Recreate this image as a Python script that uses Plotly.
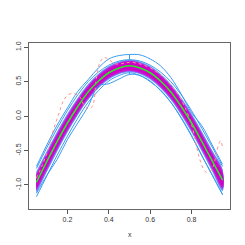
import plotly.graph_objects as go

# grid of the curves
x = [0.05, 0.10, 0.15, 0.20, 0.25, 0.30, 0.35, 0.40, 0.45, 0.50,
     0.55, 0.60, 0.65, 0.70, 0.75, 0.80, 0.85, 0.90, 0.95]

# central (mean) curve, green
center = [-0.96, -0.66, -0.37, -0.10, 0.14, 0.35, 0.51, 0.63, 0.70, 0.73,
          0.70, 0.63, 0.51, 0.35, 0.14, -0.10, -0.37, -0.65, -0.93]

# half-width of the magenta core and of the blue shaded band
hw_core = [0.105, 0.102, 0.098, 0.093, 0.087, 0.081, 0.075, 0.070, 0.067, 0.066,
           0.067, 0.070, 0.075, 0.081, 0.087, 0.093, 0.098, 0.102, 0.105]
hw_band = [0.160, 0.155, 0.148, 0.139, 0.128, 0.117, 0.106, 0.098, 0.092, 0.090,
           0.092, 0.098, 0.106, 0.117, 0.128, 0.139, 0.148, 0.155, 0.160]

# inner blue border lines (central region)
inner_hi = [-0.76, -0.46, -0.18, 0.08, 0.31, 0.50, 0.64, 0.74, 0.80, 0.82,
            0.80, 0.74, 0.64, 0.50, 0.31, 0.08, -0.18, -0.45, -0.73]
inner_lo = [-1.17, -0.87, -0.57, -0.29, -0.03, 0.20, 0.37, 0.51, 0.59, 0.63,
            0.59, 0.51, 0.37, 0.20, -0.03, -0.29, -0.57, -0.86, -1.14]

# outer blue envelope
outer_hi = [-0.73, -0.42, -0.13, 0.12, 0.36, 0.53, 0.70, 0.83, 0.88, 0.895,
            0.89, 0.83, 0.73, 0.56, 0.32, 0.05, -0.14, -0.42, -0.70]
outer_lo = [-1.12, -0.86, -0.63, -0.34, -0.10, 0.14, 0.44, 0.47, 0.54, 0.605,
            0.59, 0.50, 0.38, 0.20, -0.02, -0.28, -0.58, -0.85, -1.14]

# red dotted outlying curve
out_x = [0.05, 0.08, 0.11, 0.13, 0.16, 0.18, 0.20, 0.22, 0.24, 0.26, 0.28, 0.30,
         0.32, 0.34, 0.36, 0.38, 0.40, 0.43, 0.46, 0.50, 0.55, 0.60, 0.65, 0.70,
         0.75, 0.80, 0.82, 0.84, 0.865, 0.88, 0.905, 0.92, 0.94, 0.95]
out_y = [-0.90, -0.70, -0.45, -0.22, 0.05, 0.22, 0.30, 0.33, 0.32, 0.28, 0.16, 0.11,
         0.14, 0.55, 0.80, 0.85, 0.82, 0.76, 0.76, 0.78, 0.76, 0.70, 0.60, 0.45,
         0.24, -0.12, -0.38, -0.63, -0.80, -0.82, -0.73, -0.53, -0.36, -0.46]

# whisker at the middle
whisk_x = [0.50, 0.50]

xticks = [0.2, 0.4, 0.6, 0.8]
xtick_text = ["0.2", "0.4", "0.6", "0.8"]
yticks = [-1.0, -0.5, 0.0, 0.5, 1.0]
ytick_text = ["-1.0", "-0.5", "0.0", "0.5", "1.0"]
x_title = "x"

fig = go.Figure()

def band(hw, color):
    up = [c + h for c, h in zip(center, hw)]
    lo = [c - h for c, h in zip(center, hw)]
    fig.add_trace(go.Scatter(x=x + x[::-1], y=up + lo[::-1], fill="toself",
                             fillcolor=color, mode="lines",
                             line=dict(color=color, width=0, shape="spline"),
                             hoverinfo="skip", showlegend=False))

# shaded gradient band
cols = ["#62acff", "#7a88f4", "#9660ea", "#b430dc", "#cc10cc"]
n = len(cols)
for i in range(n):
    t = i / (n - 1)
    hw = [b + (c - b) * t for b, c in zip(hw_band, hw_core)]
    band(hw, cols[i])
band([h * 0.75 for h in hw_core], "#d000c8")

line_style = dict(color="#3a9cf0", width=1.0, shape="spline")
for arr in (inner_hi, inner_lo, outer_hi, outer_lo):
    fig.add_trace(go.Scatter(x=x, y=arr, mode="lines", line=line_style,
                             hoverinfo="skip", showlegend=False))

# whiskers
fig.add_trace(go.Scatter(x=whisk_x, y=[outer_hi[9], center[9] + hw_band[9]], mode="lines",
                         line=dict(color="#3a9cf0", width=1), showlegend=False))
fig.add_trace(go.Scatter(x=whisk_x, y=[center[9] - hw_band[9], outer_lo[9]], mode="lines",
                         line=dict(color="#3a9cf0", width=1), showlegend=False))

# outlier
fig.add_trace(go.Scatter(x=out_x, y=out_y, mode="lines",
                         line=dict(color="#ff9090", width=1, dash="dot", shape="spline"),
                         showlegend=False))

# central curve
fig.add_trace(go.Scatter(x=x, y=center, mode="lines",
                         line=dict(color="#22ee22", width=1.5, shape="spline"),
                         showlegend=False))

axis_font = dict(family="Liberation Sans, Arial", size=7, color="#333333")
fig.add_annotation(text=x_title, xref="paper", yref="paper", x=0.5, y=0,
                   yshift=-25, yanchor="middle", showarrow=False, font=axis_font)
fig.update_layout(
    width=229, height=229,
    margin=dict(l=21, r=7, t=35, b=28),
    plot_bgcolor="white", paper_bgcolor="white",
    showlegend=False,
    xaxis=dict(range=[0.014, 0.986], tickvals=xticks, ticktext=xtick_text,
               ticks="outside", ticklen=4, tickcolor="#555555", tickwidth=1,
               showgrid=False, zeroline=False, showline=True, linecolor="#666666",
               linewidth=1, mirror=True, tickfont=axis_font, automargin=False),
    yaxis=dict(range=[-1.349, 1.062], tickvals=yticks, ticktext=ytick_text,
               ticks="outside", ticklen=4, tickcolor="#555555", tickwidth=1,
               showgrid=False, zeroline=False, showline=True, linecolor="#666666",
               linewidth=1, mirror=True, tickfont=axis_font, tickangle=-90,
               automargin=False),
)

fig.write_html("out.html")
